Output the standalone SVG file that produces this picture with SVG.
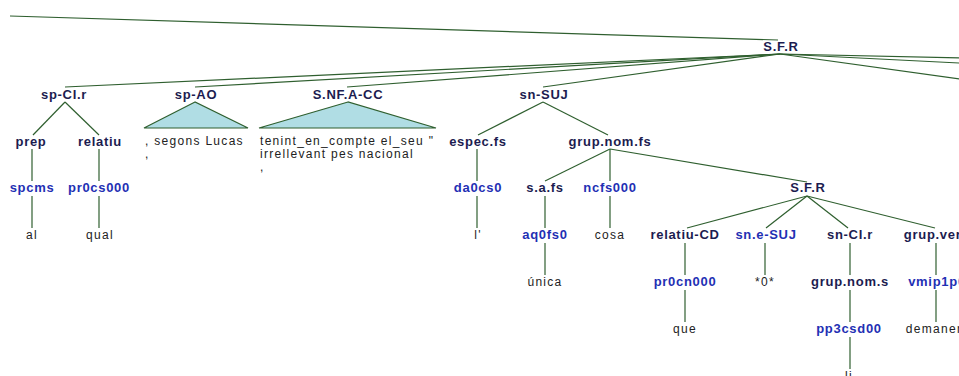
<svg xmlns="http://www.w3.org/2000/svg" width="959" height="376" viewBox="0 0 959 376">
<style>
.b{font-family:"Liberation Sans",Arial,sans-serif;font-size:13px;font-weight:bold;letter-spacing:0.7px;text-anchor:middle;fill:#1c1c50}
.t{font-family:"Liberation Sans",Arial,sans-serif;font-size:13px;font-weight:bold;letter-spacing:0.7px;text-anchor:middle;fill:#1f30b4}
.w{font-family:"Liberation Sans",Arial,sans-serif;font-size:12px;letter-spacing:1.3px;text-anchor:middle;fill:#222222}
.ws{font-family:"Liberation Sans",Arial,sans-serif;font-size:12px;letter-spacing:1.3px;fill:#222222}
.e line{stroke:#2f5f2f;stroke-width:1.2;fill:none}
.tri{fill:#b0dde4;stroke:#2f5f2f;stroke-width:1.2}
</style>
<rect width="959" height="376" fill="#ffffff"/>
<g id="connectors" class="e">
<line x1="10" y1="16" x2="778" y2="40"/>
<line x1="780" y1="54" x2="65" y2="87"/>
<line x1="780" y1="54" x2="195" y2="87"/>
<line x1="780" y1="54" x2="347" y2="87"/>
<line x1="780" y1="54" x2="543" y2="87"/>
<line x1="780" y1="54" x2="965" y2="58.1"/>
<line x1="780" y1="54" x2="965" y2="63.3"/>
<line x1="780" y1="54" x2="965" y2="79.8"/>
<line x1="65" y1="102" x2="33" y2="135"/>
<line x1="65" y1="102" x2="99" y2="135"/>
<line x1="32" y1="149" x2="32" y2="181"/>
<line x1="99" y1="149" x2="99" y2="181"/>
<line x1="32" y1="196" x2="32" y2="228"/>
<line x1="99" y1="196" x2="99" y2="228"/>
<line x1="543" y1="102" x2="478" y2="135"/>
<line x1="543" y1="102" x2="608" y2="135"/>
<line x1="477" y1="149" x2="477" y2="181"/>
<line x1="477" y1="196" x2="477" y2="228"/>
<line x1="610" y1="149" x2="545" y2="181"/>
<line x1="610" y1="149" x2="610" y2="181"/>
<line x1="610" y1="149" x2="807" y2="182"/>
<line x1="545" y1="196" x2="545" y2="228"/>
<line x1="545" y1="243" x2="545" y2="275"/>
<line x1="610" y1="196" x2="610" y2="228"/>
<line x1="807" y1="196" x2="687" y2="228"/>
<line x1="807" y1="196" x2="766" y2="228"/>
<line x1="807" y1="196" x2="848" y2="228"/>
<line x1="807" y1="196" x2="935" y2="228"/>
<line x1="685" y1="243" x2="685" y2="275"/>
<line x1="685" y1="290" x2="685" y2="322"/>
<line x1="765" y1="243" x2="765" y2="275"/>
<line x1="850" y1="243" x2="850" y2="275"/>
<line x1="850" y1="290" x2="850" y2="322"/>
<line x1="850" y1="337" x2="850" y2="369"/>
<line x1="936" y1="243" x2="936" y2="275"/>
<line x1="936" y1="290" x2="936" y2="322"/>
</g>
<g id="n-sfr-top"><text class="b" x="781" y="51">S.F.R</text></g>
<g id="n-spcir"><text class="b" x="64" y="99">sp-CI.r</text></g>
<g id="n-prep"><text class="b" x="31" y="146">prep</text></g>
<g id="n-relatiu"><text class="b" x="100" y="146">relatiu</text></g>
<g id="n-spcms"><text class="t" x="32" y="192">spcms</text></g>
<g id="n-pr0cs000"><text class="t" x="99" y="192">pr0cs000</text></g>
<g id="n-al"><text class="w" x="32" y="239">al</text></g>
<g id="n-qual"><text class="w" x="100" y="239">qual</text></g>
<g id="n-spao">
<text class="b" x="196" y="99">sp-AO</text>
<polygon class="tri" points="195,102 144,128 248,128"/>
<text class="ws" x="145" y="145">, segons Lucas</text>
<text class="ws" x="145" y="158">,</text>
</g>
<g id="n-snfacc">
<text class="b" x="348" y="99">S.NF.A-CC</text>
<polygon class="tri" points="348,102 259,128 436,128"/>
<text class="ws" x="260" y="145">tenint_en_compte el_seu "</text>
<text class="ws" x="260" y="158">irrellevant pes nacional</text>
<text class="ws" x="260" y="171">,</text>
</g>
<g id="n-snsuj"><text class="b" x="544" y="99">sn-SUJ</text></g>
<g id="n-especfs"><text class="b" x="478" y="146">espec.fs</text></g>
<g id="n-grupnomfs"><text class="b" x="610" y="146">grup.nom.fs</text></g>
<g id="n-da0cs0"><text class="t" x="478" y="192">da0cs0</text></g>
<g id="n-l"><text class="w" x="478" y="239">l'</text></g>
<g id="n-safs"><text class="b" x="545" y="192">s.a.fs</text></g>
<g id="n-aq0fs0"><text class="t" x="545" y="239">aq0fs0</text></g>
<g id="n-unica"><text class="w" x="545" y="286">única</text></g>
<g id="n-ncfs000"><text class="t" x="610" y="192">ncfs000</text></g>
<g id="n-cosa"><text class="w" x="610" y="239">cosa</text></g>
<g id="n-sfr"><text class="b" x="808" y="192">S.F.R</text></g>
<g id="n-relatiucd"><text class="b" x="685" y="239">relatiu-CD</text></g>
<g id="n-pr0cn000"><text class="t" x="685" y="286">pr0cn000</text></g>
<g id="n-que"><text class="w" x="685" y="333">que</text></g>
<g id="n-snesuj"><text class="t" x="766" y="239">sn.e-SUJ</text></g>
<g id="n-zero"><text class="w" x="765" y="286">*0*</text></g>
<g id="n-sncir"><text class="b" x="850" y="239">sn-CI.r</text></g>
<g id="n-grupnoms"><text class="b" x="850" y="286">grup.nom.s</text></g>
<g id="n-pp3csd00"><text class="t" x="849" y="333">pp3csd00</text></g>
<g id="n-li"><text class="w" x="849" y="380">li</text></g>
<g id="n-grupverb"><text class="b" x="937" y="239">grup.verb</text></g>
<g id="n-vmip1p0"><text class="t" x="937" y="286">vmip1p0</text></g>
<g id="n-demanem"><text class="w" x="937" y="333">demanem</text></g>
</svg>
